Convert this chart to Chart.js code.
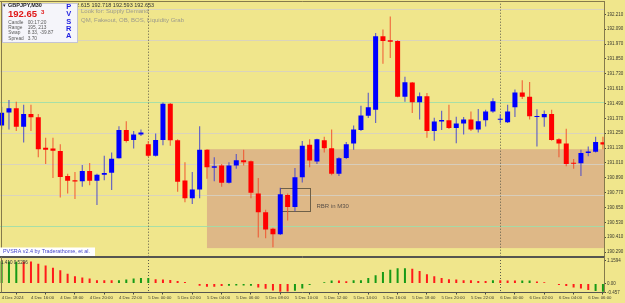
<!DOCTYPE html>
<html>
<head>
<meta charset="utf-8">
<title>GBPJPY M30 - PVSRA</title>
<script src="https://cdn.jsdelivr.net/npm/chart.js@4.4.1/dist/chart.umd.min.js"></script>
<style>
  html, body { margin: 0; padding: 0; background: #f0e68c; }
  #chartWrap { position: relative; width: 625px; height: 303px; overflow: hidden; background: #f0e68c; }
  #priceBox { position: absolute; left: 0; top: 0; width: 625px; height: 257px; }
  #oscBox { position: absolute; left: 0; top: 257px; width: 625px; height: 46px; }
</style>
</head>
<body>
<div id="chartWrap">
  <div id="priceBox"><canvas id="priceChart"></canvas></div>
  <div id="oscBox"><canvas id="oscChart"></canvas></div>
</div>
<script>
// M30 candles, 4 Dec 14:00 .. 6 Dec 07:00
const open = [
  191.312, 191.417, 191.452, 191.302, 191.405, 191.378, 191.132, 191.127, 191.106, 190.905,
  190.870, 190.862, 190.944, 190.865, 190.915, 190.931, 191.048, 191.275, 191.195, 191.240,
  191.161, 191.068, 191.195, 191.487, 191.193, 190.867, 190.725, 190.796, 191.116, 190.971,
  190.989, 190.849, 190.989, 191.032, 191.024, 190.764, 190.611, 190.479, 190.433, 190.751,
  190.653, 190.894, 191.156, 191.021, 191.193, 191.129, 190.923, 191.050, 191.167, 191.275,
  191.391, 191.439, 192.034, 192.000, 191.994, 191.544, 191.659, 191.500, 191.548, 191.267,
  191.345, 191.354, 191.292, 191.328, 191.360, 191.280, 191.354, 191.425, 191.358, 191.338,
  191.459, 191.579, 191.544, 191.381, 191.378, 191.405, 191.201, 191.167, 191.010, 191.008,
  191.090, 191.100, 191.177
];
const high = [
  191.463, 191.518, 191.505, 191.479, 191.479, 191.405, 191.214, 191.214, 191.161, 190.923,
  190.937, 190.994, 191.010, 190.923, 191.068, 191.095, 191.306, 191.346, 191.267, 191.280,
  191.187, 191.248, 191.497, 191.494, 191.201, 191.016, 190.937, 191.306, 191.121, 191.056,
  191.002, 191.016, 191.082, 191.116, 191.030, 190.889, 190.632, 190.487, 190.810, 190.764,
  190.968, 191.187, 191.201, 191.206, 191.222, 191.280, 191.056, 191.179, 191.312, 191.471,
  191.576, 192.060, 192.087, 192.193, 192.000, 191.706, 191.663, 191.578, 191.574, 191.375,
  191.431, 191.479, 191.383, 191.381, 191.425, 191.445, 191.439, 191.532, 191.403, 191.479,
  191.604, 191.677, 191.663, 191.444, 191.433, 191.439, 191.209, 191.286, 191.042, 191.116,
  191.143, 191.222, 191.221
];
const low = [
  191.280, 191.280, 191.267, 191.175, 191.267, 191.056, 191.002, 190.889, 190.730, 190.764,
  190.719, 190.818, 190.830, 190.671, 190.870, 190.791, 191.045, 191.175, 191.127, 191.227,
  191.058, 191.062, 191.153, 191.148, 190.778, 190.693, 190.679, 190.725, 190.883, 190.862,
  190.818, 190.843, 190.963, 190.989, 190.725, 190.407, 190.402, 190.328, 190.427, 190.544,
  190.619, 190.852, 190.976, 191.002, 191.095, 190.910, 190.905, 191.042, 191.116, 191.268,
  191.373, 191.333, 191.810, 191.857, 191.540, 191.505, 191.413, 191.360, 191.214, 191.189,
  191.276, 191.284, 191.169, 191.240, 191.267, 191.256, 191.304, 191.415, 191.330, 191.332,
  191.381, 191.526, 191.360, 191.143, 191.302, 191.189, 191.056, 190.984, 190.963, 190.905,
  191.063, 191.094, 191.121
];
const close = [
  191.415, 191.452, 191.302, 191.405, 191.378, 191.121, 191.116, 191.108, 190.897, 190.865,
  190.859, 190.944, 190.865, 190.915, 190.929, 191.044, 191.275, 191.187, 191.240, 191.256,
  191.068, 191.195, 191.487, 191.193, 190.857, 190.725, 190.796, 191.116, 190.976, 190.984,
  190.849, 190.989, 191.032, 191.016, 190.770, 190.611, 190.473, 190.433, 190.756, 190.653,
  190.894, 191.148, 191.029, 191.201, 191.129, 190.923, 191.048, 191.161, 191.280, 191.394,
  191.460, 192.034, 191.994, 191.989, 191.544, 191.661, 191.500, 191.548, 191.267, 191.344,
  191.356, 191.292, 191.328, 191.360, 191.280, 191.346, 191.425, 191.509, 191.367, 191.425,
  191.579, 191.544, 191.386, 191.389, 191.405, 191.195, 191.167, 191.002, 191.004, 191.090,
  191.103, 191.179, 191.159
];

// lower indicator histogram, 1 = green bar, -1 = red bar
const oscValue = [
  1.13, 1.12, 1.10, 1.10, 1.12, 1.00, 0.92, 0.80, 0.67, 0.50,
  0.37, 0.30, 0.25, 0.17, 0.17, 0.17, 0.17, 0.20, 0.25, 0.28,
  0.28, 0.22, 0.20, 0.18, 0.13, 0.08, 0.03, -0.12, -0.17, -0.17,
  -0.13, -0.12, -0.10, -0.10, -0.12, -0.20, -0.27, -0.35, -0.42, -0.40,
  -0.37, -0.25, -0.08, 0.03, 0.07, 0.15, 0.15, 0.12, 0.17, 0.17,
  0.28, 0.42, 0.58, 0.70, 0.77, 0.77, 0.75, 0.63, 0.47, 0.37,
  0.28, 0.22, 0.20, 0.17, 0.17, 0.13, 0.13, 0.17, 0.17, 0.15,
  0.15, 0.15, 0.15, 0.10, 0.07, 0.03, -0.08, -0.13, -0.20, -0.25,
  -0.33, -0.38, -0.42
];
const oscDir = [
  1, 1, 1, -1, -1, -1, -1, -1, -1, -1,
  -1, -1, -1, -1, -1, -1, 1, 1, 1, 1,
  1, -1, -1, -1, -1, -1, -1, -1, -1, -1,
  -1, 1, 1, 1, 1, -1, -1, -1, -1, -1,
  1, 1, 1, 1, 1, 1, -1, -1, 1, 1,
  1, 1, 1, 1, 1, 1, -1, -1, -1, -1,
  -1, -1, -1, -1, -1, -1, -1, 1, -1, -1,
  -1, 1, 1, -1, -1, -1, -1, -1, -1, -1,
  -1, 1, 1
];

// axes
const priceTicks = [192.21, 192.09, 191.97, 191.85, 191.73, 191.61, 191.49, 191.37, 191.25,
  191.13, 191.01, 190.89, 190.77, 190.65, 190.53, 190.41, 190.29];
const oscTicks = [1.1594, 0, -0.457];
const oscTickText = ['1.1594', '0.00', '-0.457'];
const timeTickIdx = [0, 4, 8, 12, 16, 20, 24, 28, 32, 36, 40, 44, 48, 52, 56, 60, 64, 68, 72, 76, 80];
const timeTickText = ['4 Dec 2024', '4 Dec 16:00', '4 Dec 18:00', '4 Dec 20:00', '4 Dec 22:00',
  '5 Dec 00:00', '5 Dec 02:00', '5 Dec 04:00', '5 Dec 06:00', '5 Dec 08:00', '5 Dec 10:00',
  '5 Dec 12:00', '5 Dec 14:00', '5 Dec 16:00', '5 Dec 18:00', '5 Dec 20:00', '5 Dec 22:00',
  '6 Dec 00:00', '6 Dec 02:00', '6 Dec 04:00', '6 Dec 06:00'];

// annotations
const dayStarts = [20, 68];
const levelPrices = [192.25, 192.00, 191.75, 191.50, 191.25, 191.00, 190.75, 190.50];
const zoneBars = [28];
const zonePrices = [191.121, 190.322];
const rbrBars = [38, 42];
const rbrPrices = [190.810, 190.619];
const rbrLabelPrice = 190.661;
const infoRows = [['Candle', '00:17:20'], ['Range', '195, 213'], ['Swap', '8.33, -39.87'], ['Spread', '3.70']];

const FONT = "'Liberation Sans', Arial, sans-serif";
Chart.defaults.font.family = FONT;

const idx = open.map((_, i) => i);
const PX_PER_BAR = 7.333;
const X_MIN = -1.63 / PX_PER_BAR;
const X_MAX = X_MIN + 604 / PX_PER_BAR;

const bull = idx.map(i => close[i] >= open[i]);

function drawSeparators(chart, y0, y1) {
    const { ctx, scales: { x } } = chart;
    ctx.save();
    ctx.strokeStyle = '#5c5a4a';
    ctx.lineWidth = 1;
    ctx.setLineDash([1, 2]);
    dayStarts.forEach(i => {
        const px = Math.round(x.getPixelForValue(i)) + 0.5;
        ctx.beginPath(); ctx.moveTo(px, y0); ctx.lineTo(px, y1); ctx.stroke();
    });
    ctx.restore();
}

function line(ctx, x0, y0, x1, y1) {
    ctx.beginPath(); ctx.moveTo(x0, y0); ctx.lineTo(x1, y1); ctx.stroke();
}

const priceOverlay = {
    id: 'priceOverlay',
    beforeDatasetsDraw(chart) {
        const { ctx, chartArea: a, scales: { x, y } } = chart;
        ctx.save();
        ctx.beginPath(); ctx.rect(a.left, a.top, a.right - a.left, a.bottom - a.top); ctx.clip();

        // demand zone
        const zl = x.getPixelForValue(zoneBars[0]);
        const zt = y.getPixelForValue(zonePrices[0]);
        const zb = y.getPixelForValue(zonePrices[1]);
        ctx.fillStyle = '#deb887';
        ctx.fillRect(zl, zt, a.right - zl, zb - zt);

        // quarter levels
        ctx.lineWidth = 1;
        levelPrices.forEach(p => {
            const py = Math.round(y.getPixelForValue(p)) + 0.5;
            const half = Math.abs((p % 1) - 0.5) < 1e-6;
            ctx.strokeStyle = half ? 'rgba(160,222,170,0.9)' : 'rgba(214,208,196,0.85)';
            line(ctx, a.left, py, a.right, py);
        });
        ctx.restore();

        drawSeparators(chart, a.top, chart.height);

        // RBR box + label
        ctx.save();
        const bl = Math.round(x.getPixelForValue(rbrBars[0])) + 0.5;
        const br = Math.round(x.getPixelForValue(rbrBars[1])) + 0.5;
        const bt = Math.round(y.getPixelForValue(rbrPrices[0])) + 0.5;
        const bb = Math.round(y.getPixelForValue(rbrPrices[1])) + 0.5;
        ctx.strokeStyle = '#6e6048';
        ctx.lineWidth = 1;
        ctx.strokeRect(bl, bt, br - bl, bb - bt);
        ctx.fillStyle = '#5a5048';
        ctx.font = '6px ' + FONT;
        ctx.textBaseline = 'middle';
        ctx.fillText('RBR in M30', br + 6, y.getPixelForValue(rbrLabelPrice));
        ctx.restore();
    },
    afterDraw(chart) {
        const { ctx, chartArea: a } = chart;
        ctx.save();
        // frame
        ctx.strokeStyle = '#857a4c';
        ctx.lineWidth = 1;
        line(ctx, 0, 1.5, a.right + 0.5, 1.5);
        line(ctx, 1.5, 1, 1.5, chart.height);
        line(ctx, a.right + 0.5, 1, a.right + 0.5, chart.height);
        ctx.strokeStyle = '#555550';
        line(ctx, 0, chart.height - 0.5, a.right + 0.5, chart.height - 0.5);

        ctx.textBaseline = 'middle';
        // header price string (partly hidden by the info box)
        ctx.fillStyle = '#333';
        ctx.font = '5.5px ' + FONT;
        ctx.fillText('192.615 192.718 192.593 192.653', 70, 5.2);

        // info box
        ctx.fillStyle = '#f5f5fa';
        ctx.fillRect(2, 3.5, 75.5, 39.5);
        ctx.strokeStyle = '#c4c4d4';
        ctx.strokeRect(2.5, 3.5, 75, 39);

        ctx.fillStyle = '#222';
        ctx.font = '5px ' + FONT;
        ctx.fillText('\u25be', 2.5, 5.2);
        ctx.font = 'bold 5.5px ' + FONT;
        ctx.fillText('GBPJPY,M30', 8, 5.2);

        ctx.fillStyle = '#e01818';
        ctx.font = 'bold 9.5px ' + FONT;
        ctx.fillText('192.65', 8, 14.5);
        ctx.font = 'bold 6px ' + FONT;
        ctx.fillText('3', 41, 12);

        ctx.fillStyle = '#5a5a5a';
        ctx.font = '4.8px ' + FONT;
        infoRows.forEach((r, k) => {
            const ty = 22.3 + k * 5.3;
            ctx.fillText(r[0], 8.3, ty);
            ctx.fillText(r[1], 27.7, ty);
        });

        ctx.fillStyle = '#1f1fe0';
        ctx.font = 'bold 7.5px ' + FONT;
        ctx.textAlign = 'center';
        ['P', 'V', 'S', 'R', 'A'].forEach((c, k) => ctx.fillText(c, 68.7, 7 + k * 7.3));
        ctx.textAlign = 'left';

        // hint text
        ctx.fillStyle = '#9c9a8c';
        ctx.font = '6px ' + FONT;
        ctx.fillText('Look for: Supply Demand', 81, 11.2);
        ctx.fillText('QM, Fakeout, OB, BOS, Liquidity Grab', 81, 20.2);

        // indicator credit
        ctx.fillStyle = '#ffffff';
        ctx.fillRect(0, 247.5, 95, 8.5);
        ctx.fillStyle = '#4444cc';
        ctx.font = '5.4px ' + FONT;
        ctx.fillText('PVSRA v2.4 by Traderathome, et al.', 3, 251.8);
        ctx.restore();
    }
};

const oscOverlay = {
    id: 'oscOverlay',
    beforeDatasetsDraw(chart) {
        drawSeparators(chart, 0, chart.chartArea.bottom);
    },
    afterDraw(chart) {
        const { ctx, chartArea: a } = chart;
        ctx.save();
        ctx.lineWidth = 1;
        ctx.strokeStyle = '#555550';
        line(ctx, 0, 0.5, a.right + 0.5, 0.5);
        ctx.strokeStyle = '#857a4c';
        line(ctx, 1.5, 0, 1.5, a.bottom);
        line(ctx, a.right + 0.5, 0, a.right + 0.5, a.bottom + 0.5);
        ctx.fillStyle = '#333';
        ctx.font = '4.6px ' + FONT;
        ctx.textBaseline = 'middle';
        ctx.fillText('1.410 0.5296', 1, 5.5);
        ctx.restore();
    }
};

new Chart(document.getElementById('priceChart'), {
    type: 'bar',
    data: {
        datasets: [{
            label: 'Wick',
            data: idx.map(i => ({ x: i, y: [low[i], high[i]] })),
            backgroundColor: bull.map(b => b ? 'rgba(70,70,205,0.8)' : 'rgba(240,80,45,0.8)'),
            maxBarThickness: 1.2,
            grouped: false,
            order: 2
        }, {
            label: 'Body',
            data: idx.map(i => ({ x: i, y: [open[i], close[i]] })),
            backgroundColor: bull.map(b => b ? '#0000ff' : '#ff0000'),
            maxBarThickness: 5,
            minBarLength: 1,
            grouped: false,
            order: 1
        }]
    },
    options: {
        animation: false,
        responsive: true,
        maintainAspectRatio: false,
        events: [],
        layout: { padding: { top: 2, bottom: 1, left: 0, right: 0 } },
        plugins: { legend: { display: false }, tooltip: { enabled: false } },
        scales: {
            x: { type: 'linear', min: X_MIN, max: X_MAX, offset: false, bounds: 'data', display: false },
            y: {
                position: 'right',
                min: 190.280, max: 192.296,
                bounds: 'data',
                beginAtZero: false,
                afterFit: s => { s.width = 21; },
                afterBuildTicks: s => { s.ticks = priceTicks.map(v => ({ value: v })); },
                ticks: { autoSkip: false, padding: 1, color: '#3a3a30', font: { size: 4.5 }, callback: v => v.toFixed(3) },
                grid: { drawOnChartArea: false, tickLength: 2, color: '#4a4a40' },
                border: { display: false }
            }
        }
    },
    plugins: [priceOverlay]
});

new Chart(document.getElementById('oscChart'), {
    type: 'bar',
    data: {
        datasets: [{
            label: 'Osc',
            data: idx.map(i => ({ x: i, y: oscValue[i] })),
            backgroundColor: oscDir.map(d => d > 0 ? '#169a16' : '#ff1a1a'),
            maxBarThickness: 2,
            grouped: false
        }]
    },
    options: {
        animation: false,
        responsive: true,
        maintainAspectRatio: false,
        events: [],
        layout: { padding: { top: 2.9, bottom: 0, left: 0, right: 0 } },
        plugins: { legend: { display: false }, tooltip: { enabled: false } },
        scales: {
            x: {
                type: 'linear', min: X_MIN, max: X_MAX, offset: false, bounds: 'data',
                afterFit: s => { s.height = 10.5; },
                afterBuildTicks: s => { s.ticks = timeTickIdx.map(v => ({ value: v })); },
                ticks: {
                    autoSkip: false, maxRotation: 0, minRotation: 0, align: 'start', padding: 0.5,
                    color: '#3a3a30', font: { size: 4.3 },
                    callback: v => timeTickText[timeTickIdx.indexOf(v)]
                },
                grid: { drawOnChartArea: false, tickLength: 2, color: '#4a4a40' },
                border: { color: '#555550' }
            },
            y: {
                position: 'right',
                min: -0.457, max: 1.1594,
                bounds: 'data',
                afterFit: s => { s.width = 21; },
                afterBuildTicks: s => { s.ticks = oscTicks.map(v => ({ value: v })); },
                ticks: { autoSkip: false, padding: 1, color: '#3a3a30', font: { size: 4.5 },
                    callback: v => oscTickText[oscTicks.indexOf(v)] },
                grid: { drawOnChartArea: false, tickLength: 2, color: '#4a4a40' },
                border: { display: false }
            }
        }
    },
    plugins: [oscOverlay]
});
</script>
</body>
</html>
